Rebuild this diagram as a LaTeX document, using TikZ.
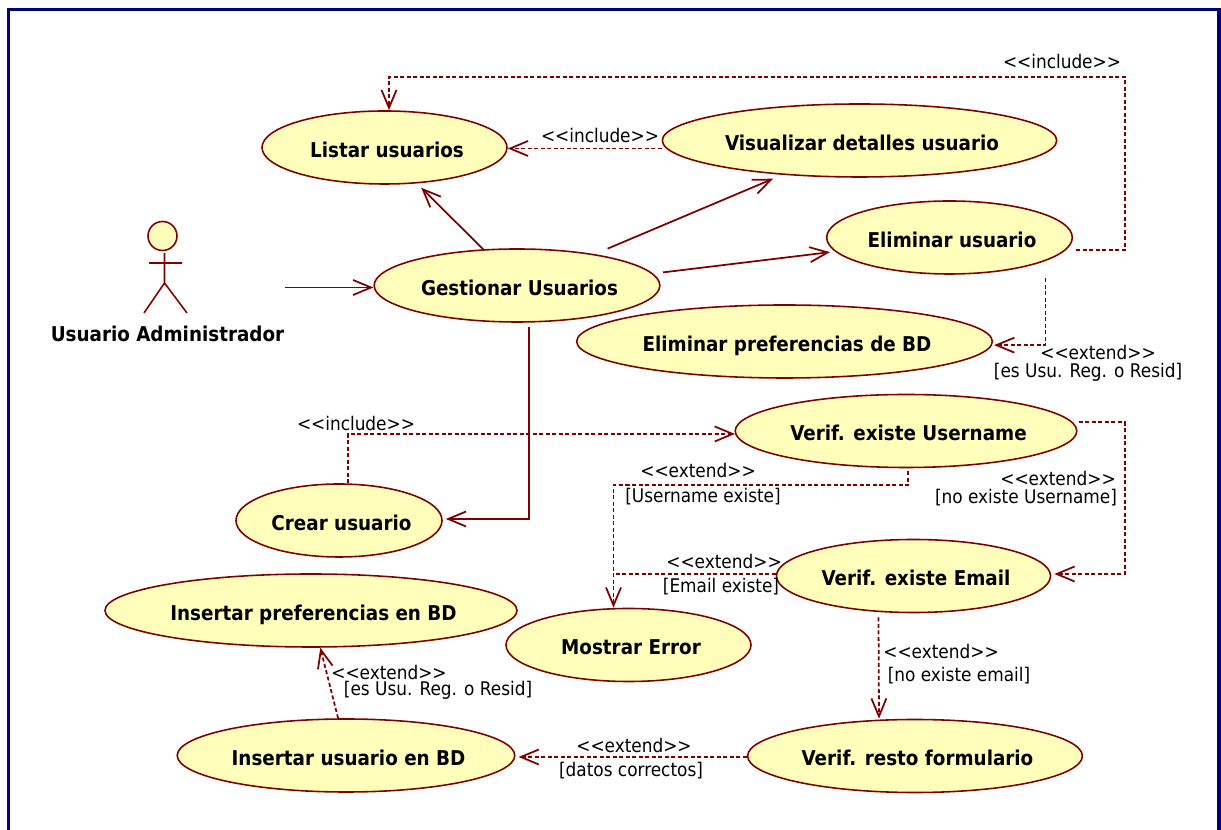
\documentclass[tikz,border=0pt]{standalone}
\usepackage{fontspec}
\setmainfont{DejaVu Sans Condensed}
\usetikzlibrary{shapes.geometric, arrows.meta, calc}
\definecolor{Borde}{RGB}{128, 0, 0}
\definecolor{Relleno}{RGB}{255, 255, 187}
\definecolor{Marco}{RGB}{0, 0, 128}
\tikzset{
    casouso/.style={ellipse, draw=Borde, fill=Relleno, line width=0.9pt, minimum height=1.46cm, inner sep=0pt, text height=0.4cm, text depth=0pt, font=\fontsize{11.6}{13}\selectfont\bfseries, execute at begin node=\hspace*{0.1cm}},
    asociacion/.style={draw=Borde, line width=1pt, -{Straight Barb[length=0.36cm, width=0.3cm]}},
    dependencia/.style={asociacion, dash pattern=on 0.08cm off 0.05cm},
    tramo/.style={draw=Borde, line width=1pt, dash pattern=on 0.08cm off 0.05cm},
    etiqueta/.style={inner sep=0pt}
}

\begin{document}
\begin{tikzpicture}[font=\fontsize{10.7}{12}\selectfont]
    \useasboundingbox (0,0) rectangle (24.42,16.6);
    \draw[Marco, line width=2pt] (0.166,0) |- (24.38,16.41) -- (24.38,0);

    % actor
    \node[circle, draw=Borde, fill=Relleno, line width=0.9pt, minimum size=0.58cm, inner sep=0pt] (cabeza) at (3.25,11.88) {};
    \draw[Borde, line width=0.9pt] (3.29,11.54) -- (3.29,10.94) (2.98,11.34) -- (3.64,11.34) (2.88,10.34) -- (3.29,10.94) -- (3.74,10.34);
    \node[etiqueta, font=\fontsize{11.6}{13}\selectfont\bfseries] (administrador) at (3.35,9.92) {Usuario Administrador};
    \coordinate (salidaactor) at (5.7,10.85);

    % casos de uso
    \node[casouso, minimum width=4.9cm] (listar) at (7.69,13.65) {Listar usuarios};
    \node[casouso, minimum width=7.7cm] (visualizar) at (17.19,13.79) {Visualizar detalles usuario};
    \node[casouso, minimum width=4.82cm] (eliminar) at (18.99,11.85) {Eliminar usuario};
    \node[casouso, minimum width=5.68cm] (gestionar) at (10.34,10.89) {Gestionar Usuarios};
    \node[casouso, minimum width=7.98cm] (elimpref) at (15.69,9.77) {Eliminar preferencias de BD};
    \node[casouso, minimum width=6.72cm] (username) at (18.12,7.98) {Verif. existe Username};
    \node[casouso, minimum width=4.12cm] (crear) at (6.78,6.19) {Crear usuario};
    \node[casouso, minimum width=5.38cm] (email) at (18.27,5.08) {Verif. existe Email};
    \node[casouso, minimum width=8.12cm] (inspref) at (6.22,4.39) {Insertar preferencias en BD};
    \node[casouso, minimum width=4.9cm] (mostrar) at (12.57,3.70) {Mostrar Error};
    \node[casouso, minimum width=6.64cm] (insusuario) at (6.92,1.49) {Insertar usuario en BD};
    \node[casouso, minimum width=6.52cm] (resto) at (18.30,1.48) {Verif. resto formulario};
    \coordinate (entradaerror) at ([xshift=-0.3cm]mostrar.north);
    \coordinate (salidavisual) at ([yshift=-0.16cm]visualizar.west);
    \coordinate (salidaemail) at ([yshift=0.04cm]email.west);
    \coordinate (salidaresto) at ([yshift=-0.02cm]resto.west);
    \coordinate (esquina) at (12,15.06);

    % asociaciones
    \draw[asociacion] (salidaactor) -- (salidaactor -| gestionar.west);
    \draw[asociacion, shorten >=0.12cm] (gestionar.133) -- (listar.-48);
    \draw[asociacion, shorten <=0.28cm, shorten >=0.2cm] (gestionar.22) -- (visualizar.204.4);
    \draw[asociacion, shorten <=0.2cm, shorten >=0.1cm] (gestionar.5.5) -- (eliminar.187.7);
    \draw[asociacion, shorten >=0.06cm] ([xshift=0.24cm,yshift=-0.08cm]gestionar.south) |- ([yshift=0.03cm]crear.east);

    % dependencias
    \draw[dependencia] (salidavisual) -- (salidavisual -| listar.east);
    \draw[dependencia] ([xshift=0.2cm]eliminar.-6) -- ++(0.98,0) |- (esquina) -| ([xshift=0.09cm]listar.north);
    \draw[dependencia, shorten >=0.04cm] ([xshift=1.92cm,yshift=-0.07cm]eliminar.south) |- (elimpref.-1.3);
    \draw[dependencia] ([xshift=0.18cm]crear.north) |- (username.181.7);
    \draw[dependencia] ([xshift=0.04cm,yshift=-0.06cm]username.south) -- ++(0,-0.28) -| (entradaerror);
    \draw[dependencia] ([xshift=0.12cm]username.3) -- ++(0.92,0) |- ([xshift=0.06cm,yshift=0.04cm]email.east);
    \draw[tramo] (salidaemail) -- (salidaemail -| entradaerror);
    \draw[dependencia] ([xshift=-0.7cm,yshift=-0.08cm]email.south) -- ([xshift=-0.72cm]resto.north);
    \draw[dependencia, shorten >=0.06cm] (salidaresto) -- (salidaresto -| insusuario.east);
    \draw[dependencia] (insusuario.102) -- (inspref.-76);

    % textos
    \node[etiqueta] (incl1) at (21.24,15.36) {<{}<include>{}>};
    \node[etiqueta] (incl2) at (12.0,13.88) {<{}<include>{}>};
    \node[etiqueta] (incl3) at (7.12,8.14) {<{}<include>{}>};
    \node[etiqueta] (ext1) at (21.96,9.56) {<{}<extend>{}>};
    \node[etiqueta] (cond1) at (21.76,9.16) {[es Usu. Reg. o Resid]};
    \node[etiqueta] (ext2) at (13.96,7.2) {<{}<extend>{}>};
    \node[etiqueta] (cond2) at (14.06,6.66) {[Username existe]};
    \node[etiqueta] (ext3) at (21.16,7.04) {<{}<extend>{}>};
    \node[etiqueta] (cond3) at (20.52,6.64) {[no existe Username]};
    \node[etiqueta] (ext4) at (14.48,5.38) {<{}<extend>{}>};
    \node[etiqueta] (cond4) at (14.42,4.86) {[Email existe]};
    \node[etiqueta] (ext5) at (18.82,3.58) {<{}<extend>{}>};
    \node[etiqueta] (cond5) at (19.18,3.08) {[no existe email]};
    \node[etiqueta] (ext6) at (7.78,3.16) {<{}<extend>{}>};
    \node[etiqueta] (cond6) at (8.76,2.8) {[es Usu. Reg. o Resid]};
    \node[etiqueta] (ext7) at (12.68,1.7) {<{}<extend>{}>};
    \node[etiqueta] (cond7) at (12.62,1.18) {[datos correctos]};
\end{tikzpicture}
\end{document}
